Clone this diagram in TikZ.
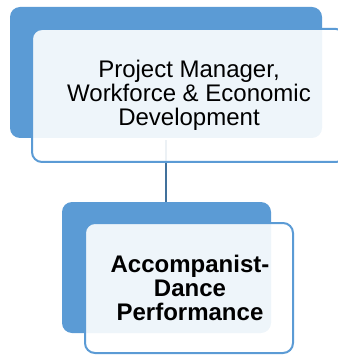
\documentclass[tikz,border=0pt]{standalone}
\usepackage{fontspec}
\setmainfont{Liberation Sans}
\definecolor{accent}{HTML}{5B9BD5}
\definecolor{linkc}{HTML}{41719C}
\begin{document}
\begin{tikzpicture}[x=1pt,y=-1pt,
  backbox/.style={fill=accent, rounded corners=10pt},
  frontbox/.style={draw=accent, line width=2pt, fill=white, fill opacity=0.9, rounded corners=10pt},
  label/.style={align=center, text=black, font=\fontsize{24}{24}\selectfont, inner sep=0pt},
  link/.style={draw=linkc, line width=2pt}]
\useasboundingbox (0,0) rectangle (337,355);
% top
\path[backbox] (10,7) rectangle (322,138);
\coordinate (b1top) at (166,140);
\coordinate (b2top) at (166,202);
\draw[link] (b1top) -- (b2top);
\path[frontbox] (32,29) rectangle (346,162);
\node[label] (t1) at (189,95) {Project Manager,\\Workforce \& Economic\\Development};
% bottom
\path[backbox] (62,202) rectangle (271,333);
\path[frontbox] (85,223) rectangle (293,353);
\node[label, font=\fontsize{24}{24}\selectfont\bfseries] (t2) at (190,288) {Accompanist-\\Dance\\Performance};
\end{tikzpicture}
\end{document}
